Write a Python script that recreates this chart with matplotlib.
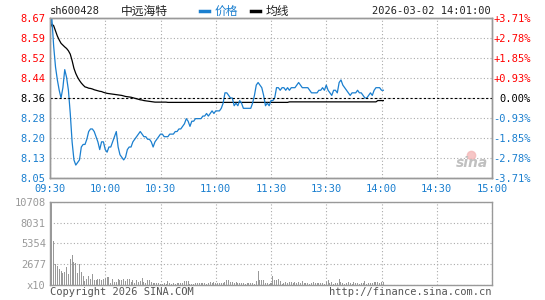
import numpy as np
import matplotlib
matplotlib.use("Agg")
import matplotlib.pyplot as plt
from matplotlib.lines import Line2D

plt.rcParams["font.family"] = ["DejaVu Sans Mono", "Noto Sans CJK SC"]

stock_code = "sh600428"
stock_name = "中远海特"
timestamp = "2026-03-02 14:01:00"
prev_close = 8.36
limit_pct = 3.71

time_labels = ["09:30", "10:00", "10:30", "11:00", "11:30", "13:30", "14:00", "14:30", "15:00"]
price_labels = ["8.05", "8.13", "8.20", "8.28", "8.36", "8.44", "8.52", "8.59", "8.67"]
pct_labels = ["-3.71%", "-2.78%", "-1.85%", "-0.93%", "0.00%", "+0.93%", "+1.85%", "+2.78%", "+3.71%"]
vol_labels = ["x10", "2677", "5354", "8031", "10708"]
vol_max = 10708

# minute prices from 09:30
price = [
    8.63, 8.67, 8.56, 8.48, 8.43, 8.39, 8.36, 8.40, 8.47, 8.44,
    8.39, 8.30, 8.19, 8.12, 8.10, 8.11, 8.12, 8.17, 8.18, 8.18,
    8.20, 8.23, 8.24, 8.24, 8.23, 8.21, 8.19, 8.16, 8.19, 8.19,
    8.16, 8.15, 8.17, 8.17, 8.19, 8.21, 8.23, 8.17, 8.14, 8.13,
    8.12, 8.13, 8.16, 8.17, 8.17, 8.19, 8.20, 8.21, 8.22, 8.23,
    8.22, 8.21, 8.21, 8.20, 8.20, 8.19, 8.17, 8.19, 8.20, 8.21,
    8.22, 8.22, 8.21, 8.21, 8.21, 8.22, 8.22, 8.22, 8.23, 8.23,
    8.24, 8.24, 8.25, 8.26, 8.28, 8.27, 8.25, 8.27, 8.27, 8.28,
    8.28, 8.28, 8.28, 8.29, 8.29, 8.30, 8.29, 8.30, 8.31, 8.30,
    8.31, 8.31, 8.31, 8.32, 8.34, 8.38, 8.38, 8.37, 8.36, 8.36,
    8.33, 8.34, 8.33, 8.35, 8.34, 8.32, 8.32, 8.32, 8.32, 8.32,
    8.34, 8.37, 8.41, 8.42, 8.41, 8.40, 8.37, 8.33, 8.34, 8.33,
    8.35, 8.35, 8.36, 8.40, 8.40, 8.39, 8.40, 8.40, 8.39, 8.40,
    8.39, 8.40, 8.40, 8.40, 8.41, 8.42, 8.41, 8.40, 8.40, 8.40,
    8.40, 8.39, 8.38, 8.38, 8.38, 8.38, 8.39, 8.39, 8.40, 8.39,
    8.41, 8.39, 8.38, 8.37, 8.39, 8.39, 8.38, 8.42, 8.43, 8.41,
    8.40, 8.39, 8.38, 8.37, 8.38, 8.38, 8.38, 8.39, 8.38, 8.38,
    8.37, 8.36, 8.36, 8.37, 8.38, 8.37, 8.39, 8.40, 8.40, 8.40,
    8.39, 8.39,
]

avg_price = [
    8.630, 8.647, 8.640, 8.620, 8.600, 8.585, 8.572, 8.565, 8.558, 8.552,
    8.543, 8.530, 8.505, 8.475, 8.455, 8.440, 8.428, 8.418, 8.410, 8.403,
    8.401, 8.398, 8.397, 8.395, 8.392, 8.390, 8.388, 8.386, 8.385, 8.382,
    8.380, 8.378, 8.377, 8.376, 8.375, 8.374, 8.373, 8.372, 8.371, 8.370,
    8.368, 8.366, 8.365, 8.364, 8.363, 8.361, 8.359, 8.357, 8.355, 8.353,
    8.352, 8.350, 8.349, 8.348, 8.347, 8.346, 8.345, 8.344, 8.344, 8.344,
    8.344, 8.344, 8.344, 8.344, 8.343, 8.343, 8.343, 8.343, 8.343, 8.343,
    8.343, 8.343, 8.343, 8.343, 8.343, 8.343, 8.343, 8.343, 8.343, 8.343,
    8.343, 8.343, 8.343, 8.343, 8.343, 8.343, 8.343, 8.343, 8.343, 8.343,
    8.343, 8.343, 8.343, 8.343, 8.343, 8.343, 8.343, 8.343, 8.343, 8.343,
    8.343, 8.343, 8.343, 8.343, 8.343, 8.343, 8.343, 8.343, 8.343, 8.343,
    8.343, 8.343, 8.343, 8.343, 8.343, 8.343, 8.343, 8.343, 8.343, 8.343,
    8.343, 8.343, 8.343, 8.343, 8.343, 8.343, 8.343, 8.343, 8.343, 8.343,
    8.345, 8.345, 8.345, 8.345, 8.345, 8.345, 8.345, 8.345, 8.345, 8.345,
    8.345, 8.345, 8.345, 8.345, 8.345, 8.345, 8.345, 8.345, 8.345, 8.345,
    8.345, 8.345, 8.345, 8.345, 8.345, 8.345, 8.345, 8.345, 8.345, 8.345,
    8.345, 8.345, 8.345, 8.345, 8.345, 8.345, 8.345, 8.345, 8.345, 8.345,
    8.345, 8.345, 8.345, 8.345, 8.345, 8.345, 8.345, 8.345, 8.350, 8.350,
    8.350, 8.350,
]

volume = [
    2975, 10708, 5695, 2720, 2465, 2083, 1785, 1572, 1700, 2338,
    1445, 3358, 3910, 2975, 2848, 1572, 2720, 1700, 1148, 510,
    808, 1148, 723, 1445, 595, 595, 723, 808, 595, 723,
    935, 1020, 1063, 298, 723, 425, 425, 723, 595, 595,
    723, 510, 723, 723, 425, 595, 298, 595, 425, 510,
    935, 425, 298, 595, 595, 425, 298, 255, 298, 298,
    170, 170, 255, 170, 510, 255, 170, 298, 170, 255,
    298, 255, 298, 510, 510, 510, 170, 170, 170, 255,
    298, 255, 298, 298, 255, 170, 298, 425, 298, 425,
    298, 298, 298, 255, 298, 425, 680, 680, 425, 425,
    298, 425, 298, 298, 298, 255, 170, 298, 255, 298,
    255, 170, 510, 1785, 680, 595, 595, 298, 298, 170,
    298, 1148, 595, 595, 723, 510, 170, 298, 425, 298,
    425, 425, 298, 425, 255, 425, 298, 510, 298, 298,
    255, 170, 298, 425, 255, 298, 298, 255, 298, 170,
    425, 595, 298, 425, 170, 298, 298, 808, 425, 298,
    170, 298, 425, 298, 170, 425, 298, 255, 170, 298,
    255, 510, 170, 255, 255, 255, 425, 425, 425, 298,
    425, 425,
]

BLUE = "#1a7fcf"
RED = "#ff0000"
GRID = "#aaaaaa"
FRAME = "#999999"
W, H = 545, 300

fig = plt.figure(figsize=(W / 100, H / 100), dpi=100)
ax = fig.add_axes([50 / W, 1 - 178 / H, 442 / W, 160 / H])
axv = fig.add_axes([50 / W, 1 - 285 / H, 442 / W, 83.3 / H])

minutes = np.arange(len(price))
lo = prev_close * (1 - limit_pct / 100)
hi = prev_close * (1 + limit_pct / 100)
yt = np.linspace(lo, hi, len(price_labels))
xt = np.arange(0, 241, 30)

# price panel
ax.plot(minutes, avg_price, color="black", lw=0.9, zorder=3)
ax.plot(minutes, price, color=BLUE, lw=0.9, zorder=4)
ax.axhline(prev_close, color="black", ls=(0, (2, 2)), lw=0.8, zorder=5)
ax.set_xlim(0, 240)
ax.set_ylim(lo, hi)
ax.set_xticks(xt)
ax.set_xticklabels(time_labels)
ax.set_yticks(yt)
ax.set_yticklabels(price_labels)
ax.tick_params(length=0, labelsize=7.5, pad=3)
ax.tick_params(axis="x", colors=BLUE, pad=4)
ax.grid(True, color=GRID, ls=(0, (1, 2)), lw=0.8)
for i, lab in enumerate(ax.get_yticklabels()):
    lab.set_color(RED if i > 4 else ("black" if i == 4 else BLUE))

ax2 = ax.twinx()
ax2.set_ylim(lo, hi)
ax2.set_yticks(yt)
ax2.set_yticklabels(pct_labels)
ax2.tick_params(length=0, labelsize=7.5, pad=28)
for i, lab in enumerate(ax2.get_yticklabels()):
    lab.set_ha("right")
    lab.set_color(RED if i > 4 else ("black" if i == 4 else BLUE))

# volume panel
axv.bar(minutes, volume, width=0.55, color="#999999", zorder=3)
axv.set_xlim(0, 240)
axv.set_ylim(0, vol_max)
axv.set_xticks(xt)
axv.set_xticklabels([])
axv.set_yticks(np.linspace(0, vol_max, len(vol_labels)))
axv.set_yticklabels(vol_labels)
axv.tick_params(length=0, labelsize=7.5, pad=3, colors="#999999")
axv.grid(True, color=GRID, ls=(0, (1, 2)), lw=0.8)

for a in (ax, ax2, axv):
    for s in a.spines.values():
        s.set_color(FRAME)
        s.set_linewidth(1)

# header
fig.text(50 / W, 1 - 11 / H, stock_code, fontsize=7.5, va="center", color="#222222")
fig.text(121 / W, 1 - 11 / H, stock_name, fontsize=8.5, va="center",
         family=["Noto Sans CJK SC"], color="#222222")
fig.add_artist(Line2D([200 / W, 209 / W], [1 - 11 / H] * 2, color=BLUE, lw=2.5))
fig.text(215 / W, 1 - 11 / H, "价格", fontsize=8.5, va="center",
         family=["Noto Sans CJK SC"], color=BLUE)
fig.add_artist(Line2D([251 / W, 260 / W], [1 - 11 / H] * 2, color="black", lw=2.5))
fig.text(266 / W, 1 - 11 / H, "均线", fontsize=8.5, va="center",
         family=["Noto Sans CJK SC"], color="#222222")
fig.text(491 / W, 1 - 11 / H, timestamp, fontsize=7.5, va="center", ha="right",
         color="#222222")

# watermark
fig.text(472 / W, 1 - 163 / H, "sina", fontsize=10, style="italic", weight="bold",
         family=["DejaVu Sans"], color="#c0c0c0", ha="center", va="center")
fig.add_artist(Line2D([471 / W], [1 - 155 / H], marker="o", ms=6, color="#f4b8b8",
                      alpha=0.8, lw=0))

# footer
fig.text(50 / W, 1 - 292 / H, "Copyright 2026 SINA.COM", fontsize=7.5, va="center",
         color="#555555")
fig.text(492 / W, 1 - 292 / H, "http://finance.sina.com.cn", fontsize=7.5,
         va="center", ha="right", color="#555555")

fig.savefig("out.png", dpi=100)
